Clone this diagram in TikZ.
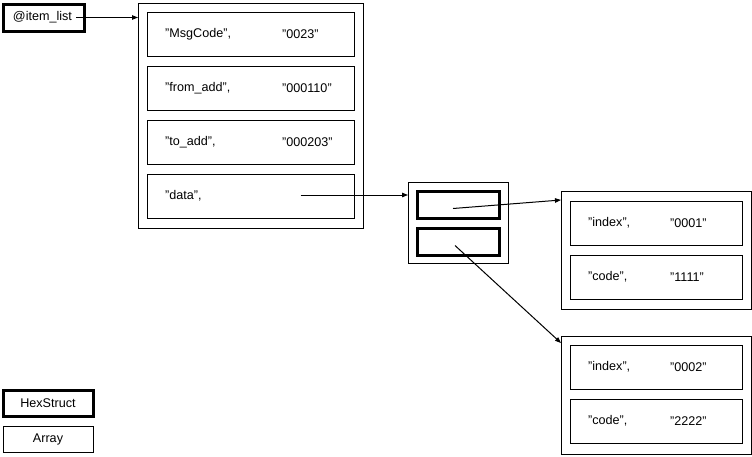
\documentclass[tikz,border=0pt]{standalone}
\usepackage{fontspec}
\setmainfont{Liberation Sans}
\usetikzlibrary{arrows.meta,positioning}

\begin{document}
\begin{tikzpicture}[
    x=1pt, y=-1pt,
    node distance=10pt,
    every node/.style={font=\fontsize{12.6}{14}\selectfont},
    frame/.style={draw, line width=1pt, inner sep=0pt, outer sep=0pt},
    cell/.style={frame, minimum height=44pt},
    hexcell/.style={draw, line width=3pt, inner sep=0pt, outer sep=0pt, minimum width=82pt, minimum height=27pt},
    key/.style={anchor=west, inner sep=0pt},
    ptr/.style={-{Triangle[length=6pt,width=4.5pt]}, line width=1pt}
  ]
    \useasboundingbox (0,0) rectangle (752,456);

    \node[hexcell, minimum width=81pt] (item) at (43.5,17.5) {@item\_list\hspace*{2pt}};

    \node[frame, minimum width=225pt, minimum height=225pt] (list) at (250.5,115.5) {};
    \node[cell, minimum width=207pt] (msg) at (250.5,34) {};
    \node[cell, minimum width=207pt, below=of msg] (from) {};
    \node[cell, minimum width=207pt, below=of from] (to) {};
    \node[cell, minimum width=207pt, below=of to] (data) {};
    \node[key] (msgk) at ([xshift=18pt]msg.west) {"MsgCode",};
    \node[key] (msgv) at ([xshift=135pt]msg.west) {"0023"};
    \node[key] (fromk) at ([xshift=18pt]from.west) {"from\_add",};
    \node[key] (fromv) at ([xshift=135pt]from.west) {"000110"};
    \node[key] (tok) at ([xshift=18pt]to.west) {"to\_add",};
    \node[key] (tov) at ([xshift=135pt]to.west) {"000203"};
    \node[key] (datak) at ([xshift=18pt]data.west) {"data",};
    \coordinate (datap) at ([xshift=50pt,yshift=1pt]data.center);

    \node[frame, minimum width=100pt, minimum height=81pt] (arr) at (458,222.5) {};
    \node[hexcell] (slot1) at (458,204.5) {};
    \node[hexcell] (slot2) at (458,241.5) {};

    \node[frame, minimum width=190pt, minimum height=118pt] (recA) at (656,250) {};
    \node[cell, minimum width=172pt] (idxA) at (656,223) {};
    \node[cell, minimum width=172pt, below=of idxA] (codeA) {};
    \node[key] (idxAk) at ([xshift=18pt]idxA.west) {"index",};
    \node[key] (idxAv) at ([xshift=100pt]idxA.west) {"0001"};
    \node[key] (codeAk) at ([xshift=18pt]codeA.west) {"code",};
    \node[key] (codeAv) at ([xshift=100pt]codeA.west) {"1111"};

    \node[frame, minimum width=190pt, minimum height=118pt] (recB) at (656,395) {};
    \node[cell, minimum width=172pt] (idxB) at (656,367) {};
    \node[cell, minimum width=172pt, below=of idxB] (codeB) {};
    \node[key] (idxBk) at ([xshift=18pt]idxB.west) {"index",};
    \node[key] (idxBv) at ([xshift=100pt]idxB.west) {"0002"};
    \node[key] (codeBk) at ([xshift=18pt]codeB.west) {"code",};
    \node[key] (codeBv) at ([xshift=100pt]codeB.west) {"2222"};

    \node[hexcell, minimum width=90pt, minimum height=26pt] (legHex) at (48,403) {HexStruct};
    \node[frame, minimum width=90pt, minimum height=26pt] (legArr) at (48,439) {Array};

    \draw[ptr] ([xshift=-8pt]item.east) -- (item -| list.west);
    \draw[ptr] (datap) -- (datap -| arr.west);
    \draw[ptr] ([shift={(-5,4)}]slot1.center) -- ([yshift=-9pt]recA.north west);
    \draw[ptr] ([shift={(-3,4)}]slot2.center) -- ([yshift=-7pt]recB.north west);
  \end{tikzpicture}
\end{document}
